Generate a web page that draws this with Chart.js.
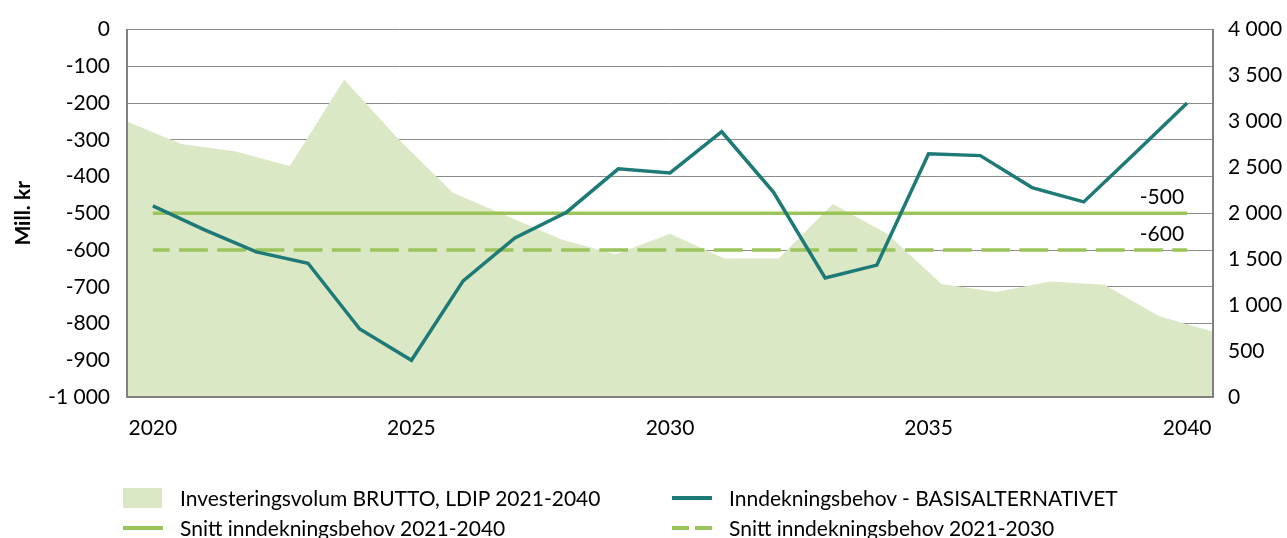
<!DOCTYPE html>
<html lang="no">
<head>
<meta charset="UTF-8">
<title>Inndekningsbehov</title>
<script src="https://cdn.jsdelivr.net/npm/chart.js"></script>
<style>
  body { margin: 0; background: #fff; }
  #wrap { position: relative; width: 1287px; height: 538px; overflow: hidden; }
  #legend { position: absolute; left: 0; top: 0; width: 1287px; height: 538px; pointer-events: none;
            font-family: Lato, sans-serif; font-size: 21px; color: #000; }
  .item { position: absolute; height: 30px; display: flex; align-items: center; white-space: nowrap; }
  .swatch { position: absolute; left: 0; }
  .label { position: absolute; left: 57px; line-height: 30px; top: 0; }
</style>
</head>
<body>
<div id="wrap">
  <canvas id="myChart" width="1287" height="538"></canvas>
  <div id="legend"></div>
</div>
<script>
// år på x-aksen
const years = ['2020','2021','2022','2023','2024','2025','2026','2027','2028','2029','2030',
               '2031','2032','2033','2034','2035','2036','2037','2038','2039','2040'];
// Inndekningsbehov - BASISALTERNATIVET (venstre akse)
const behov = [-480, -545, -605, -636, -815, -900, -684, -567, -497, -379, -390,
               -278, -442, -676, -641, -338, -343, -430, -469, -335, -200];
// Investeringsvolum BRUTTO (høyre akse)
const investering = [3000, 2755, 2673, 2515, 3458, 2806, 2225, 1970, 1715, 1555, 1777,
                     1508, 1508, 2100, 1777, 1229, 1143, 1258, 1222, 881, 710];
// snitt
const snitt2040 = -500;
const snitt2030 = -600;

const teal = '#1e7a76';
const green = '#9bc55b';
const areaColor = '#dae8c5';
const axisGray = '#808080';

// -1 000 / 4 000
function fmt(v) {
  const s = Math.abs(v).toString().replace(/\B(?=(\d{3})+(?!\d))/g, ' ');
  return (v < 0 ? '-' : '') + s;
}

const tickFont = { family: 'Lato', size: 21 };

// verdietiketter over snittlinjene + akselinjer over arealet
const avgLabels = {
  id: 'avgLabels',
  afterDatasetsDraw(chart) {
    const { ctx, scales } = chart;
    ['x', 'y', 'y2'].forEach(id => { if (scales[id].drawBorder) scales[id].drawBorder(); });
    ctx.save();
    ctx.font = '21px Lato';
    ctx.fillStyle = '#000';
    ctx.textAlign = 'right';
    ctx.textBaseline = 'middle';
    const xr = scales.x.getPixelForValue(years.length - 1) - 3;
    [snitt2040, snitt2030].forEach(v => {
      ctx.fillText(fmt(v), xr, scales.y.getPixelForValue(v) - 16);
    });
    ctx.restore();
  }
};

const ctx = document.getElementById('myChart').getContext('2d');
const myChart = new Chart(ctx, {
  type: 'line',
  data: {
    labels: years,
    datasets: [
      {
        label: 'Inndekningsbehov - BASISALTERNATIVET',
        data: behov,
        borderColor: teal,
        borderWidth: 3.5,
        pointRadius: 0,
        tension: 0,
        order: 0,
        xAxisID: 'x', yAxisID: 'y'
      },
      {
        label: 'Snitt inndekningsbehov 2021-2040',
        data: [{ x: years[0], y: snitt2040 }, { x: years[years.length - 1], y: snitt2040 }],
        borderColor: green,
        borderWidth: 3.5,
        pointRadius: 0,
        order: 1,
        xAxisID: 'x', yAxisID: 'y'
      },
      {
        label: 'Snitt inndekningsbehov 2021-2030',
        data: [{ x: years[0], y: snitt2030 }, { x: years[years.length - 1], y: snitt2030 }],
        borderColor: green,
        borderWidth: 3.5,
        borderDash: [28.8, 9.4],
        borderDashOffset: 12,
        pointRadius: 0,
        order: 2,
        xAxisID: 'x', yAxisID: 'y'
      },
      {
        label: 'Investeringsvolum BRUTTO, LDIP 2021-2040',
        data: investering,
        borderWidth: 0,
        borderColor: areaColor,
        backgroundColor: areaColor,
        fill: 'start',
        pointRadius: 0,
        tension: 0,
        order: 3,
        xAxisID: 'x2', yAxisID: 'y2'
      }
    ]
  },
  options: {
    responsive: false,
    animation: false,
    devicePixelRatio: 1,
    layout: { padding: { left: 0, right: 0, top: 25, bottom: 0 } },
    plugins: { legend: { display: false }, tooltip: { enabled: false } },
    scales: {
      x: {
        type: 'category',
        offset: true,
        grid: { display: false, drawTicks: false },
        border: { display: true, color: axisGray, width: 2 },
        ticks: {
          autoSkip: false, maxRotation: 0, color: '#000', font: tickFont, padding: 19,
          callback: (v, i) => (Number(years[i]) % 5 === 0 ? years[i] : '')
        },
        afterFit: s => { s.height = 141; }
      },
      x2: {
        type: 'category',
        labels: years,
        offset: false,
        display: false
      },
      y: {
        position: 'left',
        min: -1000, max: 0,
        ticks: { stepSize: 100, color: '#000', font: tickFont, padding: 17, callback: v => fmt(v) },
        grid: { color: '#8c8c8c', lineWidth: 1, drawTicks: false },
        border: { display: true, color: axisGray, width: 2 },
        title: {
          display: true, text: 'Mill. kr', color: '#000',
          font: { family: 'Lato', size: 21, weight: 'bold' },
          padding: { top: 11, bottom: 0 }
        },
        afterFit: s => { s.width = 127; }
      },
      y2: {
        position: 'right',
        min: 0, max: 4000,
        ticks: { stepSize: 500, color: '#000', font: tickFont, padding: 15, callback: v => fmt(v) },
        grid: { drawOnChartArea: false, drawTicks: false },
        border: { display: true, color: axisGray, width: 2 },
        afterFit: s => { s.width = 74; }
      }
    }
  },
  plugins: [avgLabels]
});

// forklaring i to kolonner
const legendCols = [123, 672];
const legendRows = [483, 513];
const legendOrder = [3, 0, 1, 2];
const legendEl = document.getElementById('legend');
legendOrder.forEach((di, k) => {
  const ds = myChart.data.datasets[di];
  const item = document.createElement('div');
  item.className = 'item';
  item.style.left = legendCols[k % 2] + 'px';
  item.style.top = legendRows[Math.floor(k / 2)] + 'px';
  const sw = document.createElement('div');
  sw.className = 'swatch';
  if (ds.fill) {
    sw.style.cssText += 'width:39px;height:20px;top:5px;background:' + ds.backgroundColor;
  } else if (ds.borderDash) {
    sw.style.cssText += 'width:40px;height:4px;top:13px;background:repeating-linear-gradient(90deg,' +
      ds.borderColor + ' 0 17px, transparent 17px 23px)';
  } else {
    sw.style.cssText += 'width:40px;height:4px;top:13px;background:' + ds.borderColor;
  }
  const lab = document.createElement('div');
  lab.className = 'label';
  lab.textContent = ds.label;
  item.appendChild(sw);
  item.appendChild(lab);
  legendEl.appendChild(item);
});
</script>
</body>
</html>
